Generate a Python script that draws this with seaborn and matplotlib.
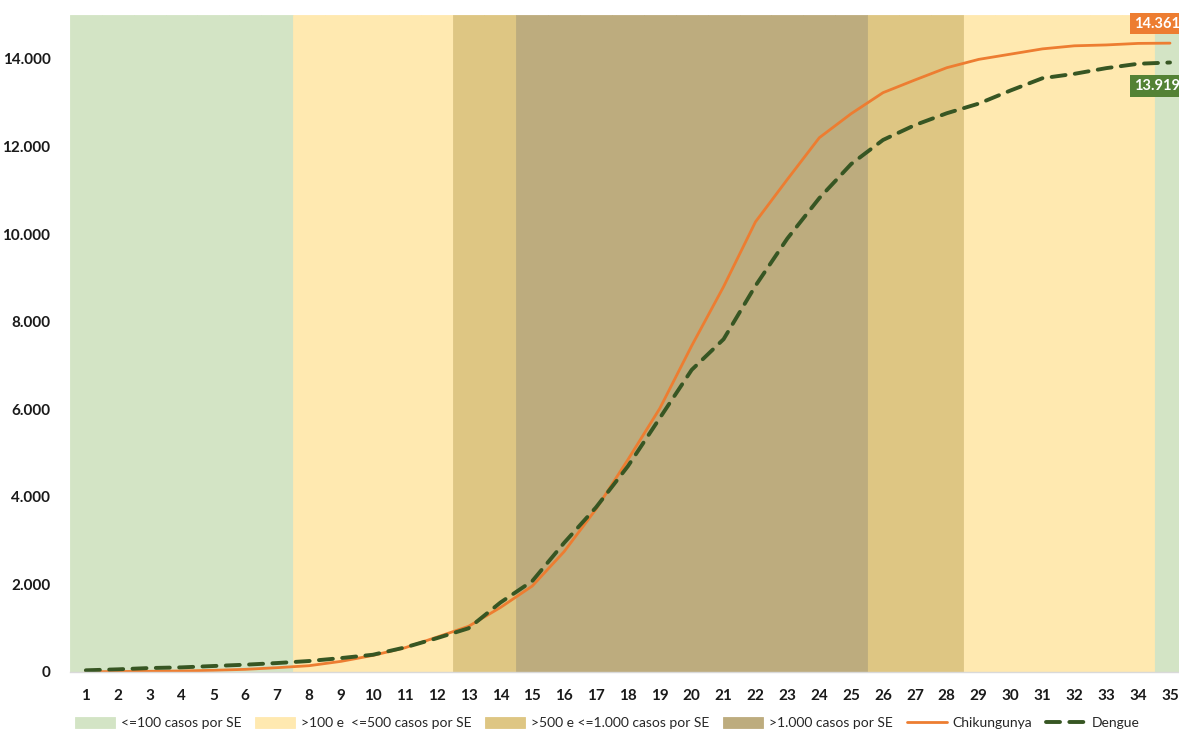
import matplotlib
matplotlib.use("Agg")
import pandas as pd
import seaborn as sns
from matplotlib import pyplot as plt
from matplotlib.ticker import FuncFormatter

# semanas epidemiológicas
WEEKS = list(range(1, 36))

# faixa de casos por SE (fundo)
BAND_LABELS = ["<=100 casos por SE", ">100 e  <=500 casos por SE",
               ">500 e <=1.000 casos por SE", ">1.000 casos por SE"]
BAND_COLORS = ["#D3E4C5", "#FFE9B0", "#DEC683", "#BDAC7E"]
BAND_BY_WEEK = ([0] * 7 + [1] * 5 + [2] * 2 + [3] * 11 + [2] * 3 + [1] * 6 + [0])
BAND_TOP = 15000

# casos acumulados
CHIK = [5, 10, 15, 23, 38, 60, 98, 143, 242, 378, 551, 793, 1042, 1472, 1963,
        2750, 3720, 4850, 6020, 7450, 8800, 10280, 11250, 12200, 12750, 13230,
        13520, 13800, 13990, 14110, 14230, 14300, 14320, 14355, 14361]
DENGUE = [38, 60, 90, 105, 136, 166, 204, 250, 317, 393, 559, 770, 997, 1585, 2076,
          2950, 3760, 4700, 5800, 6900, 7600, 8820, 9900, 10820, 11600, 12150,
          12490, 12760, 12980, 13280, 13560, 13660, 13790, 13890, 13919]

sns.set_style("white")
plt.rcParams["font.family"] = ["Lato", "DejaVu Sans"]

bands = pd.DataFrame({
    "semana": WEEKS,
    "topo": [BAND_TOP] * len(WEEKS),
    "faixa": [BAND_LABELS[i] for i in BAND_BY_WEEK],
})
series = pd.DataFrame({"semana": WEEKS, "Chikungunya": CHIK, "Dengue": DENGUE})

fig = plt.figure(figsize=(11.79, 7.36), dpi=100)
ax = fig.add_axes([0.0593, 0.0870, 0.9466, 0.8924])

sns.barplot(data=bands, x="semana", y="topo", hue="faixa", hue_order=BAND_LABELS,
            palette=BAND_COLORS, saturation=1, native_scale=True, width=1,
            dodge=False, linewidth=0, ax=ax)
for p in ax.patches:
    p.set_edgecolor(p.get_facecolor())
    p.set_linewidth(0.6)

sns.lineplot(data=series, x="semana", y="Chikungunya", color="#ED7D31",
             linewidth=2.0, label="Chikungunya", ax=ax)
sns.lineplot(data=series, x="semana", y="Dengue", color="#375623",
             linewidth=2.8, label="Dengue", ax=ax)
dengue_line = ax.lines[-1]
dengue_line.set_dashes((3.6, 2.4))
dengue_line.set_dash_capstyle("round")

ax.set_xlim(0.5, 35.5)
ax.set_ylim(0, BAND_TOP)
ax.set_xticks(WEEKS)
ax.set_yticks(range(0, 14001, 2000))
ax.yaxis.set_major_formatter(FuncFormatter(lambda v, _: f"{int(v):,}".replace(",", ".")))
ax.tick_params(axis="both", length=0, labelsize=11, colors="#1a1a1a")
ax.tick_params(axis="x", pad=12)
ax.tick_params(axis="y", pad=14)
for lab in ax.get_xticklabels() + ax.get_yticklabels():
    lab.set_fontweight("bold")
ax.set_xlabel("")
ax.set_ylabel("")
for side in ("top", "right", "left"):
    ax.spines[side].set_visible(False)
ax.spines["bottom"].set_color("#d9d9d9")
ax.spines["bottom"].set_linewidth(1)

# rótulos do último valor
ax.annotate(f"{CHIK[-1]:,}".replace(",", "."), xy=(WEEKS[-1], CHIK[-1]),
            xytext=(-26, 14), textcoords="offset points", ha="left", va="center",
            color="white", fontsize=10.5, fontweight="bold",
            bbox={"boxstyle": "square,pad=0.25", "facecolor": "#ED7D31", "edgecolor": "none"})
ax.annotate(f"{DENGUE[-1]:,}".replace(",", "."), xy=(WEEKS[-1], DENGUE[-1]),
            xytext=(-26, -17), textcoords="offset points", ha="left", va="center",
            color="white", fontsize=10.5, fontweight="bold",
            bbox={"boxstyle": "square,pad=0.25", "facecolor": "#548235", "edgecolor": "none"})

handles, labels = ax.get_legend_handles_labels()
ax.get_legend().remove()
fig.legend(handles, labels, loc="lower center", bbox_to_anchor=(0.515, -0.008),
           ncol=6, frameon=False, fontsize=10, handlelength=2.9, handleheight=0.75,
           columnspacing=1.0, handletextpad=0.4)

fig.savefig("out.png", dpi=100)
